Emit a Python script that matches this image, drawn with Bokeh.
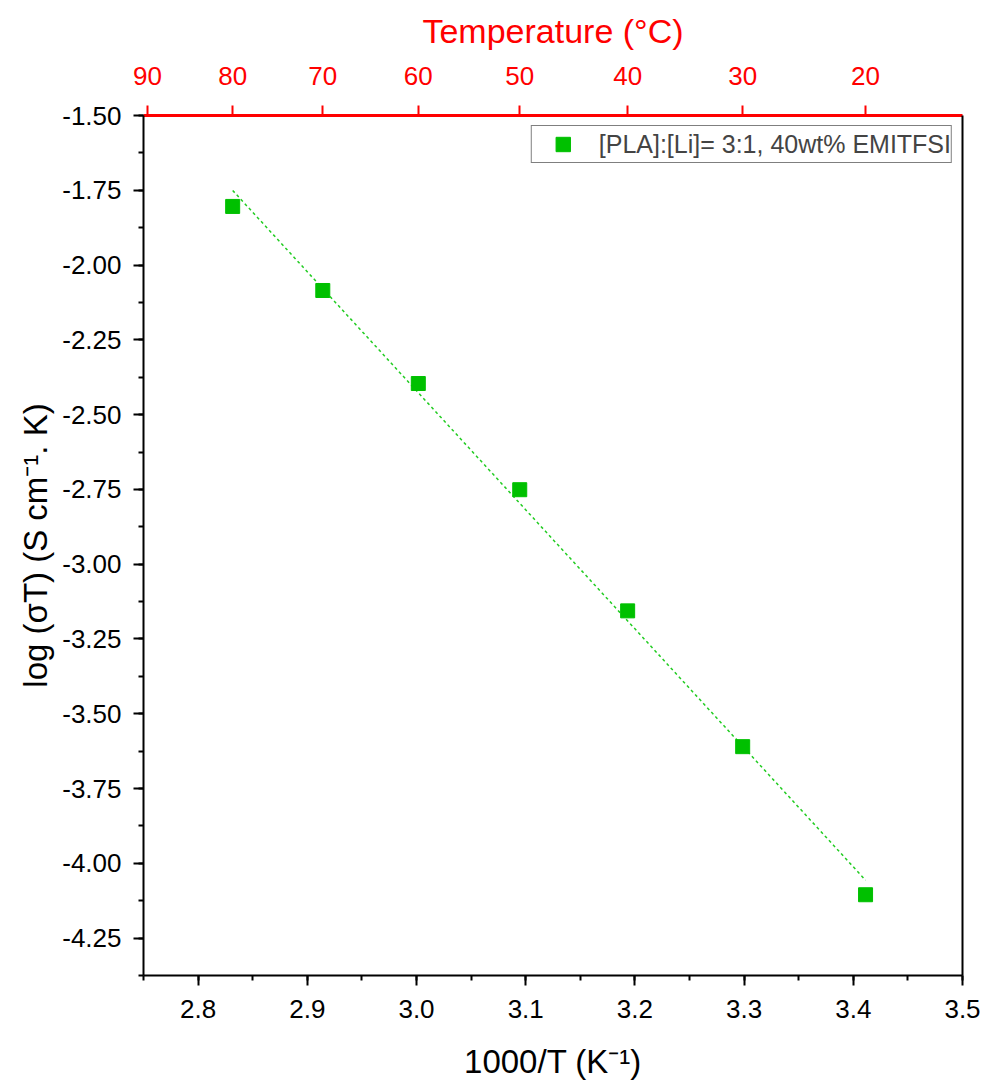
import numpy as np
from bokeh.plotting import figure
from bokeh.models import (Range1d, LinearAxis, SingleIntervalTicker, FixedTicker,
                          PrintfTickFormatter, CustomJSTickFormatter, Legend, LegendItem,
                          ColumnDataSource)
from bokeh.embed import file_html
from bokeh.resources import INLINE

# ---- data ----
temps_c = [80, 70, 60, 50, 40, 30, 20]
log_sigma_T = [-1.804, -2.085, -2.396, -2.751, -3.156, -3.610, -4.105]
top_tick_temps = [90, 80, 70, 60, 50, 40, 30, 20]
series_label = "[PLA]:[Li]= 3:1, 40wt% EMITFSI"

inv_T = [1000.0 / (t + 273.15) for t in temps_c]
slope, intercept = np.polyfit(inv_T, log_sigma_T, 1)
fit_x = [min(inv_T), max(inv_T)]
fit_y = [slope * x + intercept for x in fit_x]

FONT = "Liberation Sans"
GREEN = "#00C000"

p = figure(width=986, height=1083,
           x_range=Range1d(2.75, 3.5), y_range=Range1d(-4.375, -1.5),
           output_backend="svg", toolbar_location=None,
           x_axis_location=None, y_axis_location=None,
           min_border_left=143, min_border_right=24,
           min_border_top=115, min_border_bottom=108)
for g in p.grid:
    g.visible = False
p.outline_line_color = None
p.background_fill_color = "white"
p.border_fill_color = "white"


def style_axis(ax, color="black", width=2):
    ax.axis_line_color = color
    ax.axis_line_width = width
    ax.major_tick_line_color = color
    ax.minor_tick_line_color = color
    ax.major_tick_line_width = 2
    ax.minor_tick_line_width = 2
    ax.major_tick_in = 0
    ax.major_tick_out = 10
    ax.minor_tick_in = 0
    ax.minor_tick_out = 5
    ax.major_label_text_font = FONT
    ax.major_label_text_font_size = "26px"
    ax.major_label_text_color = color
    ax.axis_label_text_font = FONT
    ax.axis_label_text_font_style = "normal"
    ax.axis_label_text_color = color


bottom = LinearAxis(ticker=SingleIntervalTicker(interval=0.1, num_minor_ticks=2),
                    formatter=PrintfTickFormatter(format="%.1f"),
                    axis_label="1000/T (K⁻¹)")
style_axis(bottom)
bottom.major_label_standoff = 14
bottom.axis_label_standoff = 22
bottom.axis_label_text_font_size = "33px"
p.add_layout(bottom, "below")

left = LinearAxis(ticker=SingleIntervalTicker(interval=0.25, num_minor_ticks=2),
                  formatter=PrintfTickFormatter(format="%.2f"),
                  axis_label="log (σT) (S cm⁻¹. K)")
style_axis(left)
left.major_label_standoff = 12
left.axis_label_standoff = 5
left.axis_label_text_font_size = "33px"
p.add_layout(left, "left")

top = LinearAxis(ticker=FixedTicker(ticks=[1000.0 / (t + 273.15) for t in top_tick_temps],
                                    minor_ticks=[]),
                 formatter=CustomJSTickFormatter(code="return (1000/tick - 273.15).toFixed(0);"),
                 axis_label="Temperature (°C)")
style_axis(top, color="red", width=3)
top.major_label_standoff = 21
top.axis_label_standoff = 14
top.axis_label_text_font_size = "34px"
p.add_layout(top, "above")

right = LinearAxis(ticker=FixedTicker(ticks=[]), major_label_text_font_size="0px",
                   major_tick_out=0, minor_tick_out=0, major_tick_in=0, minor_tick_in=0,
                   axis_line_color="black", axis_line_width=2)
p.add_layout(right, "right")

src = ColumnDataSource(dict(x=inv_T, y=log_sigma_T))
p.line(fit_x, fit_y, line_color="#22CC22", line_width=1.5, line_dash="3 3")
r = p.scatter("x", "y", source=src, marker="square", size=14,
              fill_color=GREEN, line_color=GREEN)

legend = Legend(items=[LegendItem(label=series_label, renderers=[r])],
                location="top_right", margin=10, padding=0,
                glyph_width=62, glyph_height=36, label_standoff=5,
                label_text_font=FONT, label_text_font_size="25px",
                border_line_color="black", border_line_width=1,
                background_fill_color="white", background_fill_alpha=1.0)
p.add_layout(legend)

open("out.html", "w").write(file_html(p, INLINE))
